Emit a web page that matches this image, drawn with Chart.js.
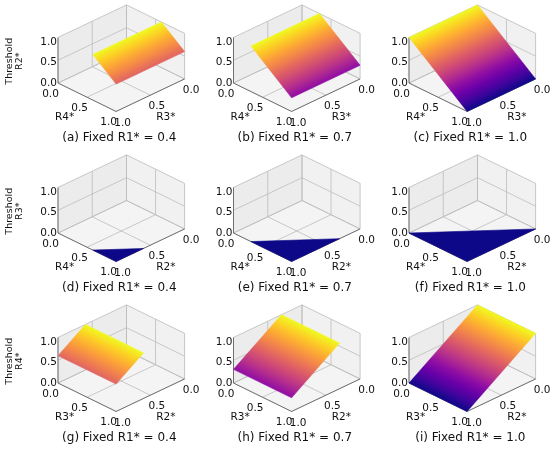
<!DOCTYPE html>
<html>
<head>
<meta charset="utf-8">
<script src="https://cdn.jsdelivr.net/npm/chart.js@4.4.1/dist/chart.umd.min.js"></script>
<style>
  html, body { margin: 0; padding: 0; background: #fff; overflow: hidden; }
  #fig { position: relative; width: 550px; height: 453px; }
  #fig canvas { position: absolute; }
</style>
</head>
<body>
<div id="fig"></div>
<script>
const fixedR1 = [0.4, 0.7, 1.0];
const panelTags = ['a', 'b', 'c', 'd', 'e', 'f', 'g', 'h', 'i'];
const thresholdNames = ['R2*', 'R3*', 'R4*'];
const frontLeftAxis = ['R4*', 'R4*', 'R3*'];
const frontRightAxis = ['R3*', 'R2*', 'R2*'];
const tickValues = [0.0, 0.5, 1.0];
const tickLabels = ['0.0', '0.5', '1.0'];

// surface corners: [front-left axis, front-right axis, threshold]
const thresholdR2 = [
  [[0.6, 0, 1.0], [0.6, 1, 1.0], [1, 1, 0.6], [1, 0, 0.6]],
  [[0.3, 0, 1.0], [0.3, 1, 1.0], [1, 1, 0.3], [1, 0, 0.3]],
  [[0.0, 0, 1.0], [0.0, 1, 1.0], [1, 1, 0.0], [1, 0, 0.0]]
];
const thresholdR3 = [
  [[0.6, 1, 0], [1, 1, 0], [1, 0.6, 0]],
  [[0.3, 1, 0], [1, 1, 0], [1, 0.3, 0]],
  [[0.0, 1, 0], [1, 1, 0], [1, 0.0, 0]]
];
const thresholdR4 = [
  [[0, 0.6, 1.0], [1, 0.6, 1.0], [1, 1, 0.6], [0, 1, 0.6]],
  [[0, 0.3, 1.0], [1, 0.3, 1.0], [1, 1, 0.3], [0, 1, 0.3]],
  [[0, 0.0, 1.0], [1, 0.0, 1.0], [1, 1, 0.0], [0, 1, 0.0]]
];
const surfaces = [thresholdR2, thresholdR3, thresholdR4];

// plasma colormap, 0 -> 1
const plasma = ['#0d0887', '#41049d', '#6a00a8', '#8f0da4', '#b12a90', '#cc4778',
                '#e16462', '#f2844b', '#fca636', '#fcce25', '#f0f921'];

// camera for the 3d box
const view = { azim: 49.7, elev: 28.4, zAspect: 0.577, skew: 0.0714, scale: 89.8 };
const W = 210, H = 152, PAD = 8;
const colStep = 175.5, rowStep = 150;
const boxCenter = { x: 121.3, y: 58.2 };

const FONT = '"DejaVu Sans", "Liberation Sans", sans-serif';
const TEXT = '#111';
const GRID = '#bdbdbd';
const AXIS = '#4a4a4a';

function project(a, b, z) {
  const phi = view.azim * Math.PI / 180, el = view.elev * Math.PI / 180;
  const c = Math.cos(phi), s = Math.sin(phi), se = Math.sin(el), ce = Math.cos(el);
  const X = b - 0.5, Y = a - 0.5, Z = (z - 0.5) * view.zAspect;
  const xv = -s * X + c * Y;
  const yv = -se * (c * X + s * Y) + ce * Z;
  return { x: xv, y: yv + view.skew * xv };
}

function path(pts) {
  return pts.map(p => project(p[0], p[1], p[2]));
}

function plasmaAt(z) {
  return plasma[Math.max(0, Math.min(10, Math.round(z * 10)))];
}

function surfaceFill(chart, poly) {
  const xs = chart.scales.x, ys = chart.scales.y;
  if (!xs || !ys) return plasmaAt(poly[0][2]);
  const pts = poly.map(([a, b, z]) => {
    const p = project(a, b, z);
    return { x: xs.getPixelForValue(p.x), y: ys.getPixelForValue(p.y), z };
  });
  const [p0, p1, p2] = pts;
  const dx1 = p1.x - p0.x, dy1 = p1.y - p0.y, dz1 = p1.z - p0.z;
  const dx2 = p2.x - p0.x, dy2 = p2.y - p0.y, dz2 = p2.z - p0.z;
  const det = dx1 * dy2 - dy1 * dx2;
  const gx = (dz1 * dy2 - dy1 * dz2) / det;
  const gy = (dx1 * dz2 - dz1 * dx2) / det;
  const g2 = gx * gx + gy * gy;
  if (!isFinite(g2) || g2 < 1e-9) return plasmaAt(p0.z);
  const t0 = (0 - p0.z) / g2, t1 = (1 - p0.z) / g2;
  const grad = chart.ctx.createLinearGradient(p0.x + gx * t0, p0.y + gy * t0, p0.x + gx * t1, p0.y + gy * t1);
  plasma.forEach((col, i) => grad.addColorStop(i / (plasma.length - 1), col));
  return grad;
}

function lineSet(pts, color, width, order) {
  return {
    data: path(pts), showLine: true, pointRadius: 0, pointHoverRadius: 0,
    borderColor: color, borderWidth: width, fill: false, clip: false, order
  };
}

function paneSet(pts, color) {
  return {
    data: path([...pts, pts[0]]), showLine: true, pointRadius: 0, pointHoverRadius: 0,
    borderColor: color, backgroundColor: color, borderWidth: 0.5, fill: 'shape', clip: false, order: 4
  };
}

function makePanel(row, col) {
  const idx = row * 3 + col;
  const left = Math.round(col * colStep) - PAD;
  const top = row * rowStep;
  const cx = col * colStep + boxCenter.x - left;
  const cy = boxCenter.y;
  const k = view.scale;

  const canvas = document.createElement('canvas');
  canvas.width = W; canvas.height = H;
  canvas.style.left = left + 'px'; canvas.style.top = top + 'px';
  canvas.style.width = W + 'px'; canvas.style.height = H + 'px';
  document.getElementById('fig').appendChild(canvas);

  const datasets = [];
  // back panes
  datasets.push(paneSet([[0, 0, 0], [0, 1, 0], [0, 1, 1], [0, 0, 1]], '#ececec'));
  datasets.push(paneSet([[0, 0, 0], [1, 0, 0], [1, 0, 1], [0, 0, 1]], '#f1f1f1'));
  datasets.push(paneSet([[0, 0, 0], [1, 0, 0], [1, 1, 0], [0, 1, 0]], '#f4f4f4'));
  // grid
  tickValues.forEach(t => {
    datasets.push(lineSet([[t, 1, 0], [t, 0, 0], [t, 0, 1]], GRID, 0.8, 3));
    datasets.push(lineSet([[1, t, 0], [0, t, 0], [0, t, 1]], GRID, 0.8, 3));
    datasets.push(lineSet([[0, 1, t], [0, 0, t], [1, 0, t]], GRID, 0.8, 3));
  });
  // axis lines
  datasets.push(lineSet([[0, 1, 0], [1, 1, 0]], AXIS, 0.7, 2));
  datasets.push(lineSet([[1, 1, 0], [1, 0, 0]], AXIS, 0.7, 2));
  datasets.push(lineSet([[0, 1, 0], [0, 1, 1]], AXIS, 0.7, 2));
  // threshold surface
  const poly = surfaces[row][col];
  datasets.push({
    data: path([...poly, poly[0]]), showLine: true, pointRadius: 0, pointHoverRadius: 0,
    fill: 'shape', clip: false, order: 0, borderWidth: 0.6,
    backgroundColor: ctx => surfaceFill(ctx.chart, poly),
    borderColor: ctx => surfaceFill(ctx.chart, poly)
  });

  const textPlugin = {
    id: 'axes3dText',
    afterDatasetsDraw(chart) {
      const g = chart.ctx;
      const xs = chart.scales.x, ys = chart.scales.y;
      const px = (a, b, z) => {
        const p = project(a, b, z);
        return { x: xs.getPixelForValue(p.x), y: ys.getPixelForValue(p.y) };
      };
      g.save();
      g.fillStyle = TEXT;
      g.textBaseline = 'middle';
      g.font = '10.5px ' + FONT;
      tickValues.forEach((t, i) => {
        const pz = px(0, 1, t * 0.9);
        g.textAlign = 'right';
        g.fillText(tickLabels[i], pz.x - 1, pz.y);
        g.textAlign = 'center';
        const pa = px(t, 1, 0);
        g.fillText(tickLabels[i], pa.x - 7.5, pa.y + 11.2);
        const pb = px(1, t, 0);
        g.fillText(tickLabels[i], pb.x + 6.5, pb.y + 11.5);
      });
      const ma = px(0.5, 1, 0);
      g.fillText(frontLeftAxis[row], ma.x - 22.5, ma.y + 20.5);
      const mb = px(1, 0.5, 0);
      g.fillText(frontRightAxis[row], mb.x + 15.5, mb.y + 22);

      const c0 = { x: xs.getPixelForValue(0), y: ys.getPixelForValue(0) };
      g.font = '12px ' + FONT;
      g.fillText('(' + panelTags[idx] + ') Fixed R1* = ' + fixedR1[col].toFixed(1), c0.x - 2, c0.y + 79.3);

      if (col === 0) {
        const mz = px(0, 1, 0.5);
        g.font = '9.5px ' + FONT;
        [['Threshold', -48], [thresholdNames[row], -38]].forEach(([txt, dx]) => {
          g.save();
          g.translate(mz.x + dx, mz.y + 1);
          g.rotate(-Math.PI / 2);
          g.fillText(txt, 0, 0);
          g.restore();
        });
      }
      g.restore();
    }
  };

  new Chart(canvas, {
    type: 'scatter',
    data: { datasets },
    options: {
      responsive: false,
      animation: false,
      events: [],
      layout: { padding: 0, autoPadding: false },
      plugins: { legend: { display: false }, tooltip: { enabled: false } },
      elements: { line: { tension: 0 } },
      scales: {
        x: { type: 'linear', display: false, bounds: 'data', min: -cx / k, max: (W - cx) / k },
        y: { type: 'linear', display: false, bounds: 'data', min: (cy - H) / k, max: cy / k }
      }
    },
    plugins: [textPlugin]
  });
}

for (let r = 0; r < 3; r++) {
  for (let c = 0; c < 3; c++) makePanel(r, c);
}
</script>
</body>
</html>
